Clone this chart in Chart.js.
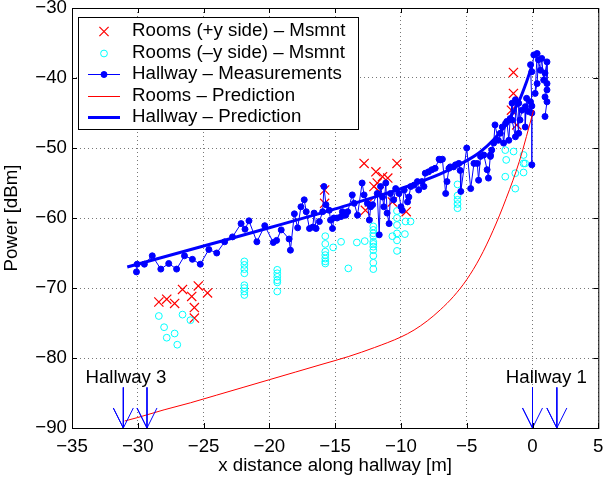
<!DOCTYPE html>
<html>
<head>
<meta charset="utf-8">
<script src="https://cdn.jsdelivr.net/npm/chart.js@4.4.0/dist/chart.umd.min.js"></script>
<style>
  html, body { margin: 0; padding: 0; background: #fff; }
</style>
</head>
<body>
<canvas id="myChart" width="606" height="477"></canvas>
<script>
// ticks
const xTicks = [-35, -30, -25, -20, -15, -10, -5, 0, 5];
const yTicks = [-90, -80, -70, -60, -50, -40, -30];

// Rooms (+y side) - measurements [x, dBm]
const roomsPlusY = [
  [-28.4, -72.0], [-27.8, -71.6], [-27.2, -72.2], [-26.6, -70.2], [-25.9, -71.2],
  [-25.4, -69.7], [-24.7, -70.7], [-25.7, -72.8], [-25.7, -74.3],
  [-15.8, -56.0], [-15.8, -57.9], [-12.8, -52.2], [-11.9, -53.4], [-10.3, -52.2],
  [-11.4, -54.1], [-11.0, -54.3], [-11.8, -55.0], [-12.05, -55.5], [-11.65, -56.2],
  [-12.4, -57.7], [-12.7, -58.9], [-10.65, -57.7], [-9.6, -59.1],
  [-1.45, -39.2], [-1.45, -42.2], [-1.6, -44.6], [-1.2, -46.7]
];

// Rooms (-y side) - measurements
const roomsMinusY = [
  [-28.4, -74.0], [-26.6, -73.8], [-26.0, -74.6], [-28.0, -75.6], [-27.2, -76.5],
  [-27.8, -77.1], [-27.0, -78.1],
  [-21.9, -66.2], [-21.9, -66.7], [-21.9, -67.3], [-21.9, -67.9], [-21.9, -69.6],
  [-21.9, -70.0], [-21.9, -70.5], [-21.9, -71.0],
  [-19.4, -67.4], [-19.4, -67.9], [-19.4, -68.4], [-19.4, -68.9], [-19.4, -69.2], [-19.4, -70.5],
  [-15.75, -62.6], [-15.75, -63.7], [-15.75, -64.8], [-15.75, -65.3], [-15.75, -65.8],
  [-15.75, -66.2], [-15.75, -66.5],
  [-15.15, -64.2], [-14.55, -63.4], [-14.0, -67.2], [-13.35, -63.5], [-12.75, -63.3],
  [-12.1, -61.2], [-12.1, -61.7], [-12.1, -62.2], [-12.1, -62.6], [-12.1, -63.4], [-12.1, -63.7],
  [-12.1, -64.1], [-12.1, -64.6], [-12.1, -65.4], [-12.1, -66.4], [-12.1, -67.3],
  [-10.65, -62.6], [-10.3, -59.0], [-10.3, -60.0], [-10.3, -61.0], [-10.3, -62.2],
  [-10.3, -63.2], [-10.3, -64.7], [-9.7, -62.3], [-9.65, -60.5], [-9.27, -60.5],
  [-5.7, -55.2], [-5.7, -56.8], [-5.7, -57.4], [-5.7, -58.0], [-5.7, -58.6],
  [-2.07, -50.3], [-1.44, -50.5], [-0.68, -51.0], [-2.0, -51.7], [-0.68, -52.2], [-0.56, -52.2],
  [-2.07, -54.1], [-1.31, -53.6], [-0.68, -53.5], [-1.31, -55.8]
];

// Hallway - measurements (in walking order)
const hallwayMeas = [
  [-30.1, -67.7], [-30.05, -66.6], [-29.5, -66.6], [-28.9, -65.4], [-28.25, -67.3],
  [-27.65, -66.5], [-27.05, -67.3], [-26.45, -65.4], [-25.85, -65.9], [-25.25, -66.6],
  [-24.6, -64.5], [-24.0, -65.0], [-23.4, -63.4], [-22.8, -62.7], [-22.15, -60.8],
  [-21.85, -61.6], [-21.55, -60.4], [-20.95, -63.4], [-20.35, -61.1], [-19.7, -63.5],
  [-19.45, -63.2], [-19.1, -61.7], [-18.5, -63.0], [-18.4, -64.6], [-18.1, -59.4],
  [-17.85, -61.4],
  [-17.6, -58.4], [-17.35, -57.4], [-17.2, -59.1], [-16.95, -61.5], [-16.7, -61.3],
  [-16.6, -59.3], [-16.45, -61.5], [-16.2, -60.5], [-15.95, -59.1], [-15.85, -55.5],
  [-15.7, -58.1], [-15.45, -58.9], [-15.35, -60.3], [-15.2, -61.5], [-15.1, -60.0],
  [-14.85, -60.0], [-14.55, -59.8], [-14.45, -59.1], [-14.2, -59.6], [-14.05, -59.1],
  [-13.7, -56.7], [-13.55, -57.9], [-13.3, -59.6], [-12.95, -55.0], [-12.8, -56.7],
  [-12.55, -57.9], [-12.4, -60.3], [-12.3, -58.4], [-12.15, -58.1], [-11.8, -56.5],
  [-11.65, -62.4], [-11.55, -55.5], [-11.4, -57.0], [-11.3, -58.4], [-11.15, -55.0],
  [-11.05, -59.3], [-10.9, -60.8], [-10.8, -56.5], [-10.55, -57.4], [-10.4, -55.8],
  [-10.15, -56.5], [-10.0, -58.4], [-9.9, -58.9], [-9.75, -56.0], [-9.5, -57.7],
  [-9.4, -57.0], [-9.25, -55.5], [-9.0, -55.3], [-8.75, -54.8], [-8.65, -56.0],
  [-8.4, -54.8], [-8.25, -55.5], [-8.15, -53.6], [-7.9, -53.4], [-7.65, -53.1],
  [-7.4, -52.9], [-7.1, -51.6], [-7.0, -51.7], [-6.85, -51.6], [-6.6, -56.5],
  [-6.5, -54.8], [-6.35, -52.9], [-6.25, -52.7], [-6.0, -52.7], [-5.85, -52.4],
  [-5.6, -52.2], [-5.5, -53.2], [-5.45, -56.2], [-5.0, -50.0], [-4.7, -55.8],
  [-4.45, -52.2], [-4.2, -52.2], [-4.1, -54.6], [-3.95, -51.2], [-3.7, -51.0],
  [-3.45, -53.1], [-3.35, -54.3], [-3.2, -51.0], [-3.2, -51.2], [-3.1, -50.3], [-2.95, -49.3],
  [-2.85, -46.7], [-2.6, -48.9], [-2.45, -47.9], [-2.3, -47.0], [-2.2, -49.3],
  [-2.05, -46.5], [-1.95, -46.2], [-1.8, -48.9], [-1.7, -45.8], [-1.55, -43.6],
  [-1.55, -46.0], [-1.3, -48.4], [-1.3, -43.1], [-1.05, -47.9], [-1.05, -43.6],
  [-0.95, -46.0], [-0.8, -44.6], [-0.55, -44.1], [-0.55, -47.0], [-0.45, -42.9],
  [-0.3, -44.8], [-0.15, -43.4], [-0.05, -45.0], [-0.05, -52.4], [-0.05, -44.0],
  [-0.15, -38.1], [-0.05, -39.1], [0.1, -36.7], [0.35, -36.5], [0.2, -42.2],
  [0.35, -40.8], [0.45, -37.4], [0.6, -38.9], [0.7, -37.2], [0.85, -40.3],
  [0.95, -39.3], [1.1, -37.7], [1.1, -40.8], [1.1, -41.7], [0.95, -42.7],
  [1.1, -43.4], [0.95, -45.5]
];

// Rooms - prediction
const roomsPred = [
  [-31, -89.0], [-30, -88.5], [-28, -87.4], [-26, -86.4], [-24, -85.3], [-22, -84.2],
  [-20, -83.1], [-18, -82.0], [-16, -80.9], [-14, -79.8], [-12, -78.5], [-10, -77.0],
  [-9, -76.0], [-8, -74.7], [-7, -73.1], [-6, -71.2], [-5, -68.8], [-4, -65.7],
  [-3, -61.8], [-2, -57.2], [-1, -51.9], [0.08, -44.6]
];

// Hallway - prediction
const hallwayPred = [
  [-30.8, -67.0], [-25, -64.0], [-20, -61.4], [-15, -58.7], [-10, -55.8], [-7, -53.7],
  [-5, -51.8], [-4, -50.6], [-3, -48.9], [-2, -46.6], [-1, -43.2], [-0.5, -40.8], [0, -38.0]
];

// hallway junction markers
const arrowX = [-31.1, -29.3, 0, 1.85];
const arrowTop = -84.2;
const hallwayNames = ["Hallway 3", "Hallway 1"];
const hallwayNameX = [-30.9, 1.05];
const hallwayNameY = -83.6;

const legendNames = [
  "Rooms (+y side) \u2013 Msmnt",
  "Rooms (\u2013y side) \u2013 Msmnt",
  "Hallway \u2013 Measurements",
  "Rooms \u2013 Prediction",
  "Hallway \u2013 Prediction"
];

const FONT = '"Liberation Sans", Arial, Helvetica, sans-serif';
const FSIZE = 18.7;
const toXY = (arr) => arr.map((p) => ({ x: p[0], y: p[1] }));
const fmt = (v) => (v < 0 ? "\u2212" + Math.abs(v) : String(v));

const arrowSets = arrowX.map((x) => ({
  data: [
    { x: x, y: arrowTop }, { x: x, y: -90 },
    { x: x - 0.76, y: -90 + 2.86 }, { x: x, y: -90 }, { x: x + 0.76, y: -90 + 2.86 }
  ],
  showLine: true,
  borderColor: "#0000ff",
  borderWidth: 1,
  pointRadius: 0,
  order: 0,
  clip: false
}));

const datasets = [
  {
    label: legendNames[0],
    data: toXY(roomsPlusY),
    pointStyle: "crossRot",
    pointRadius: 6.5,
    pointBorderColor: "#ff0000",
    pointBackgroundColor: "#ff0000",
    pointBorderWidth: 1.2,
    showLine: false,
    order: 5
  },
  {
    label: legendNames[1],
    data: toXY(roomsMinusY),
    pointStyle: "circle",
    pointRadius: 3.4,
    pointBorderColor: "#00ffff",
    pointBackgroundColor: "rgba(0,0,0,0)",
    pointBorderWidth: 1,
    showLine: false,
    order: 4
  },
  {
    label: legendNames[2],
    data: toXY(hallwayMeas),
    showLine: true,
    borderColor: "#0000ff",
    borderWidth: 1,
    pointStyle: "circle",
    pointRadius: 3,
    pointBorderWidth: 1,
    pointBorderColor: "#0000ff",
    pointBackgroundColor: "#0000ff",
    order: 3
  },
  {
    label: legendNames[3],
    data: toXY(roomsPred),
    showLine: true,
    borderColor: "#ff0000",
    borderWidth: 1,
    pointRadius: 0,
    cubicInterpolationMode: "monotone",
    order: 2
  },
  {
    label: legendNames[4],
    data: toXY(hallwayPred),
    showLine: true,
    borderColor: "#0000ff",
    borderWidth: 3,
    pointRadius: 0,
    cubicInterpolationMode: "monotone",
    order: 1
  }
].concat(arrowSets);

// box, inward ticks, labels, legend
const matlabLook = {
  id: "matlabLook",
  afterDatasetsDraw(chart) {
    const { ctx, chartArea: a, scales } = chart;
    ctx.save();
    ctx.strokeStyle = "#000";
    ctx.lineWidth = 1;
    ctx.strokeRect(a.left + 0.5, a.top + 0.5, a.right - a.left, a.bottom - a.top);
    const tl = 5;
    ctx.beginPath();
    xTicks.forEach((v) => {
      const px = Math.round(scales.x.getPixelForValue(v)) + 0.5;
      ctx.moveTo(px, a.bottom); ctx.lineTo(px, a.bottom - tl);
      ctx.moveTo(px, a.top); ctx.lineTo(px, a.top + tl);
    });
    yTicks.forEach((v) => {
      const py = Math.round(scales.y.getPixelForValue(v)) + 0.5;
      ctx.moveTo(a.left, py); ctx.lineTo(a.left + tl, py);
      ctx.moveTo(a.right, py); ctx.lineTo(a.right - tl, py);
    });
    ctx.stroke();

    // hallway names
    ctx.fillStyle = "#000";
    ctx.font = FSIZE + "px " + FONT;
    ctx.textAlign = "center";
    ctx.textBaseline = "alphabetic";
    hallwayNames.forEach((t, i) => {
      ctx.fillText(t, scales.x.getPixelForValue(hallwayNameX[i]), scales.y.getPixelForValue(hallwayNameY));
    });
    ctx.restore();
  },
  afterDraw(chart) {
    const { ctx, chartArea: a } = chart;
    const bx = a.left + 6, by = a.top + 9, bw = 280, bh = 112;
    ctx.save();
    ctx.fillStyle = "#fff";
    ctx.fillRect(bx, by, bw, bh);
    ctx.strokeStyle = "#000";
    ctx.lineWidth = 1;
    ctx.strokeRect(bx + 0.5, by + 0.5, bw, bh);
    ctx.font = FSIZE + "px " + FONT;
    ctx.textBaseline = "middle";
    ctx.textAlign = "left";
    for (let i = 0; i < 5; i++) {
      const ds = chart.data.datasets[i];
      const y = by + 14 + i * 21.5;
      const x0 = bx + 10, x1 = bx + 42, xm = bx + 26;
      if (ds.showLine) {
        ctx.strokeStyle = ds.borderColor;
        ctx.lineWidth = ds.borderWidth;
        ctx.beginPath();
        ctx.moveTo(x0, Math.round(y) + 0.5);
        ctx.lineTo(x1, Math.round(y) + 0.5);
        ctx.stroke();
      }
      if (ds.pointRadius > 0) {
        ctx.strokeStyle = ds.pointBorderColor;
        ctx.fillStyle = ds.pointBackgroundColor;
        ctx.lineWidth = ds.pointBorderWidth;
        Chart.helpers.drawPoint(ctx, {
          pointStyle: ds.pointStyle,
          radius: ds.pointRadius,
          borderWidth: ds.pointBorderWidth,
          rotation: 0
        }, xm, Math.round(y) + 0.5);
      }
      ctx.fillStyle = "#000";
      ctx.fillText(ds.label, bx + 54, y);
    }
    ctx.restore();
  }
};

const chartDOM = document.getElementById("myChart");
new Chart(chartDOM, {
  type: "scatter",
  data: { datasets: datasets },
  plugins: [matlabLook],
  options: {
    responsive: false,
    animation: false,
    devicePixelRatio: 1,
    events: [],
    layout: { padding: { top: 8, right: 6, left: 0, bottom: 0 } },
    plugins: { legend: { display: false }, tooltip: { enabled: false } },
    scales: {
      x: {
        type: "linear",
        min: -35,
        max: 5,
        afterBuildTicks: (s) => { s.ticks = xTicks.map((v) => ({ value: v })); },
        afterFit: (s) => { s.height = 49; s.paddingLeft = 0; s.paddingRight = 0; },
        ticks: {
          color: "#000",
          padding: 8,
          maxRotation: 0,
          font: { family: FONT, size: FSIZE },
          callback: (v) => fmt(v)
        },
        grid: { color: "#777", lineWidth: 1, drawTicks: false },
        border: { display: false, dash: [1, 3] },
        title: {
          display: true,
          text: "x distance along hallway [m]",
          color: "#000",
          font: { family: FONT, size: FSIZE },
          padding: { top: 0, bottom: 0 }
        }
      },
      y: {
        type: "linear",
        min: -90,
        max: -30,
        afterBuildTicks: (s) => { s.ticks = yTicks.map((v) => ({ value: v })); },
        afterFit: (s) => { s.width = 72; s.paddingTop = 0; s.paddingBottom = 0; },
        ticks: {
          color: "#000",
          padding: 5,
          font: { family: FONT, size: FSIZE },
          callback: (v) => fmt(v)
        },
        grid: { color: "#777", lineWidth: 1, drawTicks: false },
        border: { display: false, dash: [1, 3] },
        title: {
          display: true,
          text: "Power [dBm]",
          color: "#000",
          font: { family: FONT, size: FSIZE },
          padding: { top: 1, bottom: 0 }
        }
      }
    }
  }
});
</script>
</body>
</html>
